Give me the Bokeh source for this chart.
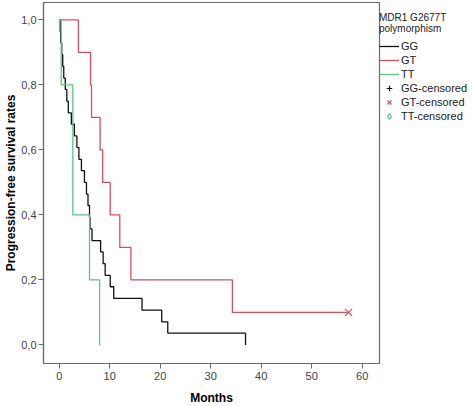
from bokeh.plotting import figure
from bokeh.models import Range1d, FixedTicker, Legend, LegendItem
from bokeh.embed import file_html
from bokeh.resources import INLINE

# ---- data ----
groups = ["GG", "GT", "TT"]
gg_months = [0, 0.2, 0.3, 0.5, 0.7, 0.9, 1.2, 1.5, 1.8, 2.4, 3.0, 3.5, 3.9, 4.4, 5.0,
             5.4, 5.7, 6.0, 6.1, 6.5, 8.2, 8.7, 9.1, 10.1, 10.8, 16.4, 20.3, 21.5, 36.9]
gg_surv = [1.0, 0.964, 0.929, 0.893, 0.857, 0.821, 0.786, 0.75, 0.714, 0.679, 0.643,
           0.607, 0.571, 0.536, 0.5, 0.464, 0.429, 0.393, 0.357, 0.321, 0.286, 0.25,
           0.214, 0.179, 0.143, 0.107, 0.071, 0.036, 0.0]
gt_months = [0, 3.8, 6.2, 6.4, 8.1, 8.6, 10.1, 12.0, 14.2, 34.3, 57.3]
gt_surv = [1.0, 0.9, 0.8, 0.7, 0.6, 0.5, 0.4, 0.3, 0.2, 0.1, 0.1]
tt_months = [0, 0.4, 2.7, 6.0, 8.0]
tt_surv = [1.0, 0.8, 0.4, 0.2, 0.0]

# censored cases (NaN = no censored case in that group)
gg_cens_months, gg_cens_surv = [float("nan")], [float("nan")]
gt_cens_months, gt_cens_surv = [57.3], [0.1]
tt_cens_months, tt_cens_surv = [float("nan")], [float("nan")]

x_ticks = [0, 10, 20, 30, 40, 50, 60]
y_ticks = [0.0, 0.2, 0.4, 0.6, 0.8, 1.0]
y_tick_labels = ["0,0", "0,2", "0,4", "0,6", "0,8", "1,0"]

legend_title = "MDR1 G2677T\npolymorphism"
x_label = "Months"
y_label = "Progression-free survival rates"

BLACK = "#111111"
RED = "#d4505c"
GREEN = "#62c184"
AXIS = "#6b6b6b"
FONT = "Liberation Sans"

p = figure(frame_width=336, frame_height=361, output_backend="svg",
           toolbar_location=None,
           x_range=Range1d(-3.11, 63.43), y_range=Range1d(-0.0572, 1.0535),
           min_border_left=43, min_border_right=0, min_border_top=2,
           min_border_bottom=43)
p.xgrid.visible = False
p.ygrid.visible = False
p.outline_line_color = AXIS
p.outline_line_width = 1.2
p.background_fill_color = "white"
p.border_fill_color = "white"

for ax in (p.xaxis[0], p.yaxis[0]):
    ax.axis_line_color = AXIS
    ax.axis_line_width = 1.2
    ax.major_tick_line_color = AXIS
    ax.major_tick_in = 0
    ax.major_tick_out = 5
    ax.minor_tick_line_color = None
    ax.major_label_text_font = FONT
    ax.major_label_text_font_size = "11px"
    ax.major_label_text_color = "#444444"
    ax.axis_label_text_font = FONT
    ax.axis_label_text_font_size = "12px"
    ax.axis_label_text_font_style = "bold"
    ax.axis_label_text_color = "black"

p.xaxis.ticker = FixedTicker(ticks=x_ticks)
p.xaxis.major_label_standoff = 3
p.xaxis.axis_label = x_label
p.xaxis.axis_label_standoff = 8

p.yaxis.ticker = FixedTicker(ticks=y_ticks)
p.yaxis.major_label_overrides = dict(zip(y_ticks, y_tick_labels))
p.yaxis.major_label_standoff = 2
p.yaxis.axis_label = y_label
p.yaxis.axis_label_standoff = 0

r_gg = p.step(x=gg_months, y=gg_surv, mode="after", line_color=BLACK, line_width=1.3)
r_gt = p.step(x=gt_months, y=gt_surv, mode="after", line_color=RED, line_width=1.3)
r_tt = p.step(x=tt_months, y=tt_surv, mode="after", line_color=GREEN, line_width=1.3)
c_gg = p.scatter(x=gg_cens_months, y=gg_cens_surv, marker="cross", size=12,
                 line_color=BLACK, line_width=1.2)
c_gt = p.scatter(x=gt_cens_months, y=gt_cens_surv, marker="x", size=10,
                 line_color=RED, line_width=1.2)
c_tt = p.scatter(x=tt_cens_months, y=tt_cens_surv, marker="diamond", size=13,
                 line_color=GREEN, fill_color=None, line_width=1.2)

items = [LegendItem(label=g, renderers=[r]) for g, r in zip(groups, [r_gg, r_gt, r_tt])]
items += [LegendItem(label=g + "-censored", renderers=[r])
          for g, r in zip(groups, [c_gg, c_gt, c_tt])]
legend = Legend(items=items, location=(0, 240), glyph_width=20, glyph_height=14,
                label_height=14, label_standoff=2, spacing=0, padding=0, margin=0,
                border_line_color=None, background_fill_alpha=0,
                label_text_font=FONT, label_text_font_size="11px",
                label_text_color="#222222",
                title=legend_title, title_text_font=FONT, title_text_font_size="10px",
                title_text_font_style="normal", title_text_color="#222222",
                title_standoff=5)
p.add_layout(legend, "right")

open("out.html", "w").write(file_html(p, INLINE))
